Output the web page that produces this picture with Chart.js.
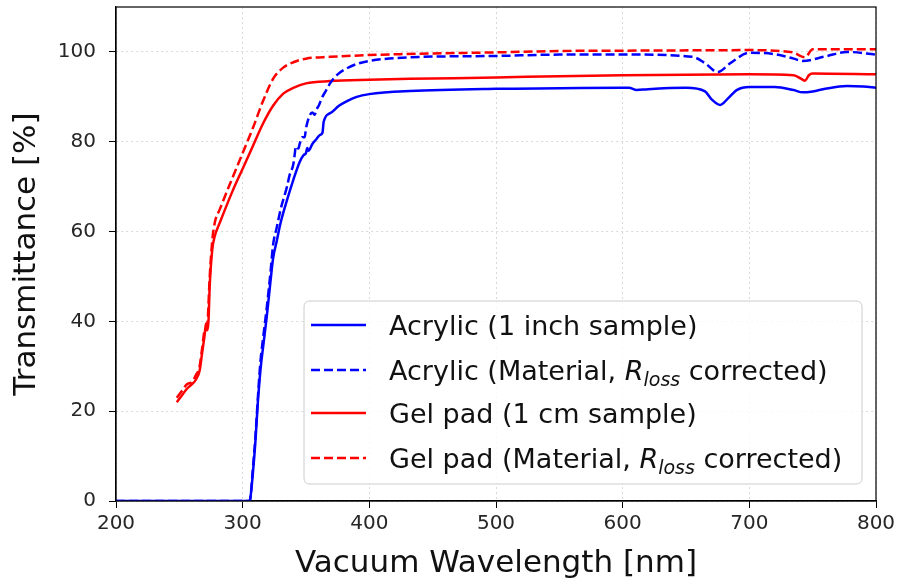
<!DOCTYPE html>
<html>
<head>
<meta charset="utf-8">
<script src="https://cdn.jsdelivr.net/npm/chart.js@4.4.1/dist/chart.umd.min.js"></script>
<style>
  html, body { margin: 0; padding: 0; background: #ffffff; }
  #c { display: block; }
</style>
</head>
<body>
<canvas id="c" width="898" height="586"></canvas>
<script>
// ---------------- data ----------------
const seriesLabels = [
  "Acrylic (1 inch sample)",
  "Acrylic (Material, R_loss corrected)",
  "Gel pad (1 cm sample)",
  "Gel pad (Material, R_loss corrected)"
];

const acrylicWl = [200,305,306,308,310,312,314,316,319,322,324,327,330,335,340,345,348,350,351,352,355,358,361,363,364,370,376,382,390,400,432,500,550,600,605,611,620,650,665,670,677,683,690,700,720,735,742,750,760,777,790,800];
const acrylicT  = [0,0,0.5,6,13,22,29,34,41,49,54,58,62,67,71.5,75.5,77,77.5,78.6,78,79.5,80.5,81.5,82,84.5,86.5,88,89,90,90.6,91.3,91.8,91.9,92,92,91.5,91.7,92,91.2,89.5,88.2,89.6,91.5,92.2,92.2,91.5,91,91.2,91.8,92.4,92.3,92];

const acrylicMatWl = [200,305,306,308,310,312,314,316,319,322,324,327,330,335,337,340,341,342,344,345,347,349,350,355,357,358,360,363,366,369,375,382,390,400,432,500,550,608,655,665,675,685,700,720,735,742,760,777,800];
const acrylicMatT  = [0,0,0.5,7,14,23,31,36,43,51,57,61,65,70,72.5,75,77,79,78.5,79.5,81,81,83,86.5,86,87,88,90,91.5,93,95,96.3,97.3,98,98.8,99.1,99.4,99.4,98.9,97.5,95.5,97.5,99.8,99.5,98.5,98,99,100,99.4];

const gelWl = [248,252,256,260,263,266,268,270,271,272,273,274,276,278,282,292,300,308,316,324,332,340,350,369,400,432,500,550,600,700,735,741,744,747,750,800];
const gelT  = [22,23.5,25,26,27,29,33,37,39.5,38,40,48,56,59,62,69,74,79,84,88,90.7,92,93,93.5,93.8,94,94.3,94.6,94.8,95,94.8,94,93.6,94.8,95.2,95];

const gelMatWl = [248,252,256,260,263,266,268,270,272,274,276,278,282,292,300,308,316,324,332,340,350,369,400,424,500,550,620,700,734,744,750,800];
const gelMatT  = [23,24.5,26,26.5,28,30,34,38,39,50,58,62,65,72,77.5,83,89,94,96.5,97.7,98.5,98.9,99.3,99.5,99.9,100.2,100.3,100.4,99.9,98.8,100.6,100.6];

const xTicks = [200,300,400,500,600,700,800];
const yTicks = [0,20,40,60,80,100];

// ---------------- helpers ----------------
function pts(xs, ys) { return xs.map((x, i) => ({ x: x, y: ys[i] })); }

const FONT = "'DejaVu Sans', 'Liberation Sans', sans-serif";

function mkDs(label, xs, ys, color, dashed) {
  return {
    label: label,
    data: pts(xs, ys),
    borderColor: color,
    backgroundColor: color,
    borderWidth: 2.5,
    borderDash: dashed ? [9, 4] : [],
    pointRadius: 0,
    fill: false,
    tension: 0,
    cubicInterpolationMode: 'monotone'
  };
}

// draw top & right spines
const framePlugin = {
  id: 'frame',
  afterDraw(chart) {
    const { ctx, chartArea: a } = chart;
    ctx.save();
    ctx.strokeStyle = '#000';
    ctx.lineWidth = 1.2;
    ctx.strokeRect(a.left, a.top, a.right - a.left, a.bottom - a.top);
    ctx.restore();
  }
};

// legend with italic subscript R_loss
const legendPlugin = {
  id: 'mplLegend',
  afterDatasetsDraw(chart) {
    const { ctx, chartArea: a } = chart;
    const w = 558, h = 183;
    const x0 = a.right - 14 - w, y0 = a.bottom - 17 - h;
    ctx.save();
    const r = 6;
    ctx.beginPath();
    ctx.moveTo(x0 + r, y0);
    ctx.lineTo(x0 + w - r, y0);
    ctx.quadraticCurveTo(x0 + w, y0, x0 + w, y0 + r);
    ctx.lineTo(x0 + w, y0 + h - r);
    ctx.quadraticCurveTo(x0 + w, y0 + h, x0 + w - r, y0 + h);
    ctx.lineTo(x0 + r, y0 + h);
    ctx.quadraticCurveTo(x0, y0 + h, x0, y0 + h - r);
    ctx.lineTo(x0, y0 + r);
    ctx.quadraticCurveTo(x0, y0, x0 + r, y0);
    ctx.closePath();
    ctx.fillStyle = 'rgba(255,255,255,0.8)';
    ctx.fill();
    ctx.strokeStyle = '#cccccc';
    ctx.lineWidth = 1;
    ctx.stroke();

    const rowsY = [24, 69, 112, 157];
    chart.data.datasets.forEach((ds, i) => {
      const yy = y0 + rowsY[i];
      ctx.beginPath();
      ctx.strokeStyle = ds.borderColor;
      ctx.lineWidth = 2.5;
      ctx.setLineDash(ds.borderDash || []);
      ctx.moveTo(x0 + 7, yy);
      ctx.lineTo(x0 + 62, yy);
      ctx.stroke();
      ctx.setLineDash([]);

      let tx = x0 + 85;
      ctx.fillStyle = '#111';
      ctx.textBaseline = 'alphabetic';
      const base = yy + 10;
      const parts = ds.label.split('R_loss');
      ctx.font = '27px ' + FONT;
      ctx.fillText(parts[0], tx, base);
      tx += ctx.measureText(parts[0]).width;
      if (parts.length > 1) {
        ctx.font = 'italic 27px ' + FONT;
        ctx.fillText('R', tx, base);
        tx += ctx.measureText('R').width;
        ctx.font = 'italic 19px ' + FONT;
        ctx.fillText('loss', tx, base + 6);
        tx += ctx.measureText('loss').width;
        ctx.font = '27px ' + FONT;
        ctx.fillText(parts[1], tx, base);
      }
    });
    ctx.restore();
  }
};

const ctx = document.getElementById('c').getContext('2d');
new Chart(ctx, {
  type: 'line',
  data: {
    datasets: [
      mkDs(seriesLabels[0], acrylicWl, acrylicT, '#0000ff', false),
      mkDs(seriesLabels[1], acrylicMatWl, acrylicMatT, '#0000ff', true),
      mkDs(seriesLabels[2], gelWl, gelT, '#ff0000', false),
      mkDs(seriesLabels[3], gelMatWl, gelMatT, '#ff0000', true)
    ]
  },
  options: {
    responsive: false,
    animation: false,
    events: [],
    layout: { padding: { left: 0, right: 22, top: 7, bottom: 0 } },
    plugins: { legend: { display: false }, tooltip: { enabled: false } },
    scales: {
      x: {
        type: 'linear',
        min: 200, max: 800,
        afterBuildTicks(scale) { scale.ticks = xTicks.map(v => ({ value: v })); },
        afterFit(scale) { scale.height = 85; scale.paddingLeft = 0; scale.paddingRight = 0; },
        ticks: { font: { size: 20, family: FONT }, color: '#262626', padding: 4, maxRotation: 0 },
        grid: { color: '#d9d9d9', lineWidth: 1, tickColor: '#000', tickLength: 7, drawTicks: true, tickBorderDash: [] },
        border: { color: '#000', width: 1.2, dash: [2, 3] },
        title: { display: true, text: 'Vacuum Wavelength [nm]', font: { size: 31, family: FONT }, color: '#111', padding: { top: 0, bottom: 3 } }
      },
      y: {
        type: 'linear',
        min: 0, max: 110,
        afterBuildTicks(scale) { scale.ticks = yTicks.map(v => ({ value: v })); },
        afterFit(scale) { scale.width = 116; scale.paddingTop = 0; scale.paddingBottom = 0; },
        ticks: { font: { size: 20, family: FONT }, color: '#262626', padding: 13 },
        grid: { color: '#d9d9d9', lineWidth: 1, tickColor: '#000', tickLength: 7, drawTicks: true, tickBorderDash: [] },
        border: { color: '#000', width: 1.2, dash: [2, 3] },
        title: { display: true, text: 'Transmittance [%]', font: { size: 31, family: FONT }, color: '#111', padding: { top: 8, bottom: 0 } }
      }
    }
  },
  plugins: [framePlugin, legendPlugin]
});
</script>
</body>
</html>
